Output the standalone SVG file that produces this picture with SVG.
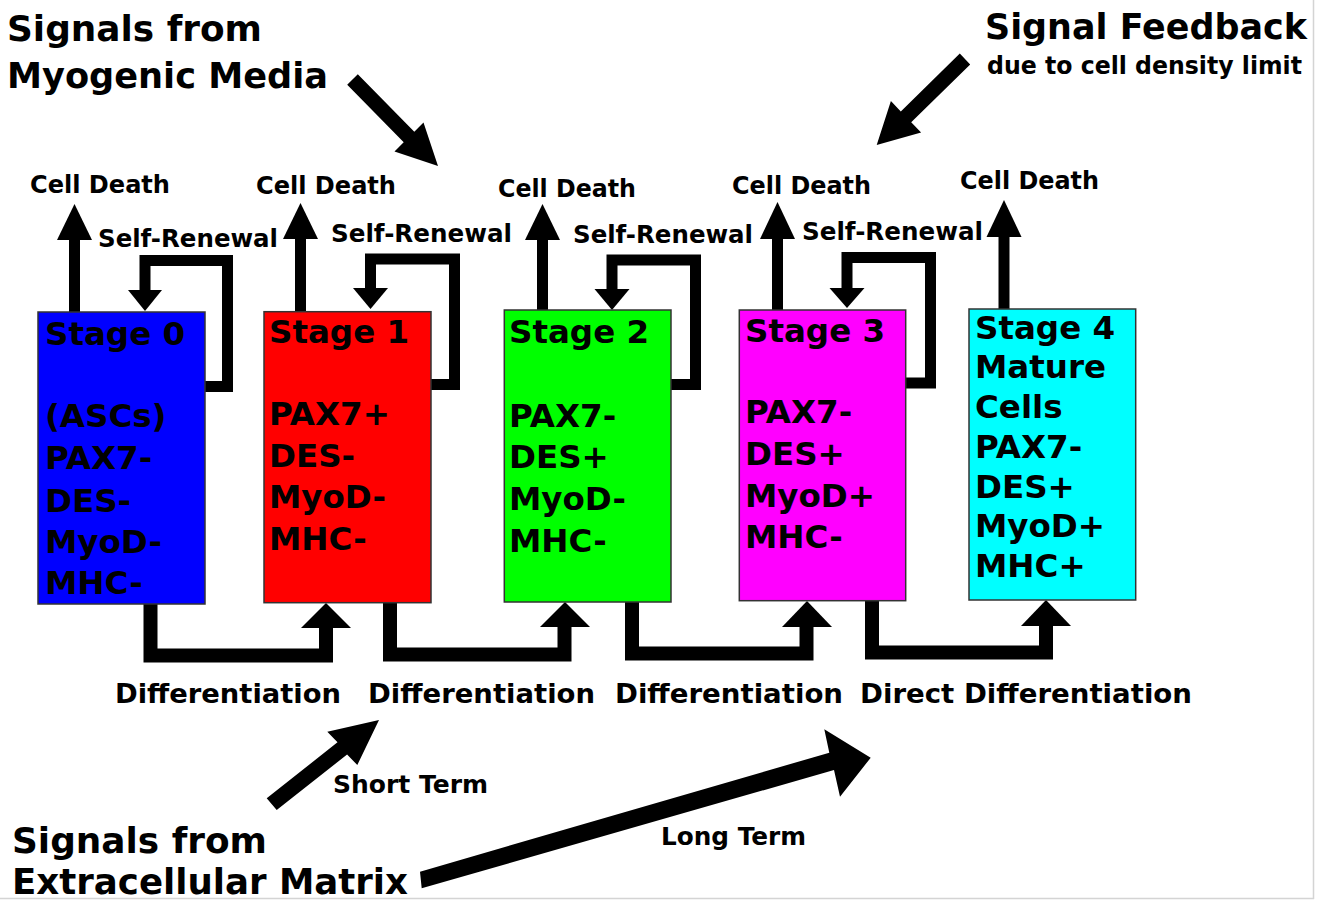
<svg xmlns="http://www.w3.org/2000/svg" width="1321" height="901" viewBox="0 0 1321 901">
<style>
text{font-family:"DejaVu Sans","Verdana","Liberation Sans",sans-serif;font-weight:bold;fill:#000}
.h{font-size:36px}
.lbl{font-size:24px}
.diff{font-size:27px}
.st{font-size:32.5px}
.box{stroke:#333;stroke-width:1.5}
.c11{fill:none;stroke:#000;stroke-width:11;stroke-linejoin:miter;stroke-linecap:butt}
.c14{fill:none;stroke:#000;stroke-width:14;stroke-linejoin:miter;stroke-linecap:butt}
.hd{fill:#000}
</style>
<rect x="0" y="0" width="1321" height="901" fill="#fff"/>
<line x1="1313.5" y1="0" x2="1313.5" y2="899" stroke="#d4d4d4" stroke-width="1.5"/>
<line x1="0" y1="898.5" x2="1314" y2="898.5" stroke="#d4d4d4" stroke-width="1.5"/>

<g id="connectors">
  <!-- cell death arrows -->
  <path class="c11" d="M74.5,312 V239"/><polygon class="hd" points="57,240 74.5,204 92,240"/>
  <path class="c11" d="M300.5,312 V238"/><polygon class="hd" points="283,239 300.5,203 318,239"/>
  <path class="c11" d="M542.5,310 V239"/><polygon class="hd" points="525,240 542.5,204 560,240"/>
  <path class="c11" d="M777.5,310 V238"/><polygon class="hd" points="760,239 777.5,202 795,239"/>
  <path class="c11" d="M1004,309 V236"/><polygon class="hd" points="986.5,237 1004,200 1021.5,237"/>
  <!-- self-renewal loops -->
  <path class="c11" d="M205,386.5 H227.5 V260.5 H145 V291"/><polygon class="hd" points="128,290 145,311 162,290"/>
  <path class="c11" d="M431,384.5 H454.5 V259 H370.5 V289"/><polygon class="hd" points="353,288 370.5,309 388,288"/>
  <path class="c11" d="M671,384.5 H695.5 V260 H612 V290"/><polygon class="hd" points="594.5,289 612,310 629.5,289"/>
  <path class="c11" d="M905.7,383 H930.5 V257.5 H847 V289"/><polygon class="hd" points="829.5,288 847,308 864.5,288"/>
  <!-- differentiation connectors -->
  <path class="c14" d="M150.5,604 V655.5 H326 V627"/><polygon class="hd" points="301,628 326,603 351,628"/>
  <path class="c14" d="M390,603 V654.5 H564.5 V626"/><polygon class="hd" points="540,627 565,602 590,627"/>
  <path class="c14" d="M632,602 V653.5 H806.5 V626"/><polygon class="hd" points="782,627 807,601 832,627"/>
  <path class="c14" d="M872,601 V652.5 H1046 V625"/><polygon class="hd" points="1021,626 1046,600 1071,626"/>
  <!-- signal arrows -->
  <polygon class="hd" points="357.8,74.2 414.3,131.7 423.5,122.5 438,166 394.5,151.5 403.7,142.3 347.2,84.8"/>
  <polygon class="hd" points="959.8,53.6 900.8,111.4 890.9,101.1 876.7,145 921.1,132.5 911.2,122.2 970.2,64.4"/>
  <polygon class="hd" points="266.7,798.3 337.5,742.3 327.3,731.7 379,720 357.3,765 347.1,754.5 276.7,810"/>
  <polygon class="hd" points="420,871.7 829.3,752.7 824.3,729.3 870.7,757.7 840,796.7 834,770 421.7,888.3"/>
</g>

<g id="stage0">
  <rect class="box" x="38" y="312" width="167" height="292" fill="#0000ff"/>
  <text class="st" x="45" y="345">Stage 0</text>
  <text class="st" x="45" y="427">(ASCs)</text>
  <text class="st" x="45" y="469">PAX7-</text>
  <text class="st" x="45" y="512">DES-</text>
  <text class="st" x="45" y="553">MyoD-</text>
  <text class="st" x="45" y="594">MHC-</text>
</g>
<g id="stage1">
  <rect class="box" x="264" y="311.7" width="167" height="291" fill="#ff0000"/>
  <text class="st" x="269" y="343">Stage 1</text>
  <text class="st" x="269" y="425">PAX7+</text>
  <text class="st" x="269" y="467">DES-</text>
  <text class="st" x="269" y="508">MyoD-</text>
  <text class="st" x="269" y="550">MHC-</text>
</g>
<g id="stage2">
  <rect class="box" x="504.3" y="310" width="166.7" height="292" fill="#00ff00"/>
  <text class="st" x="509" y="343">Stage 2</text>
  <text class="st" x="509" y="427">PAX7-</text>
  <text class="st" x="509" y="468">DES+</text>
  <text class="st" x="509" y="510">MyoD-</text>
  <text class="st" x="509" y="552">MHC-</text>
</g>
<g id="stage3">
  <rect class="box" x="739.3" y="310" width="166.4" height="290.7" fill="#ff00ff"/>
  <text class="st" x="745" y="342">Stage 3</text>
  <text class="st" x="745" y="423">PAX7-</text>
  <text class="st" x="745" y="465">DES+</text>
  <text class="st" x="745" y="507">MyoD+</text>
  <text class="st" x="745" y="548">MHC-</text>
</g>
<g id="stage4">
  <rect class="box" x="969" y="309" width="166.7" height="291" fill="#00ffff"/>
  <text class="st" x="975" y="339">Stage 4</text>
  <text class="st" x="975" y="378">Mature</text>
  <text class="st" x="975" y="418">Cells</text>
  <text class="st" x="975" y="458">PAX7-</text>
  <text class="st" x="975" y="498">DES+</text>
  <text class="st" x="975" y="537">MyoD+</text>
  <text class="st" x="975" y="577">MHC+</text>
</g>

<g id="labels">
  <text class="h" x="7" y="41" textLength="255" lengthAdjust="spacingAndGlyphs">Signals from</text>
  <text class="h" x="7" y="88" textLength="321" lengthAdjust="spacingAndGlyphs">Myogenic Media</text>
  <text class="h" x="985" y="39" font-size="35" textLength="322" lengthAdjust="spacingAndGlyphs">Signal Feedback</text>
  <text class="lbl" x="987" y="74" font-size="23" textLength="315" lengthAdjust="spacingAndGlyphs">due to cell density limit</text>
  <text class="h" x="12" y="853" textLength="255" lengthAdjust="spacingAndGlyphs">Signals from</text>
  <text class="h" x="12" y="894" textLength="396" lengthAdjust="spacingAndGlyphs">Extracellular Matrix</text>

  <text class="lbl" x="30" y="193" textLength="140" lengthAdjust="spacingAndGlyphs">Cell Death</text>
  <text class="lbl" x="256" y="194" textLength="140" lengthAdjust="spacingAndGlyphs">Cell Death</text>
  <text class="lbl" x="498" y="197" textLength="138" lengthAdjust="spacingAndGlyphs">Cell Death</text>
  <text class="lbl" x="732" y="194" textLength="139" lengthAdjust="spacingAndGlyphs">Cell Death</text>
  <text class="lbl" x="960" y="189" textLength="139" lengthAdjust="spacingAndGlyphs">Cell Death</text>

  <text class="lbl" x="98" y="246.5" textLength="180" lengthAdjust="spacingAndGlyphs">Self-Renewal</text>
  <text class="lbl" x="331" y="241.5" textLength="181" lengthAdjust="spacingAndGlyphs">Self-Renewal</text>
  <text class="lbl" x="573" y="243" textLength="180" lengthAdjust="spacingAndGlyphs">Self-Renewal</text>
  <text class="lbl" x="802" y="240" textLength="181" lengthAdjust="spacingAndGlyphs">Self-Renewal</text>

  <text class="diff" x="115" y="703" textLength="226" lengthAdjust="spacingAndGlyphs">Differentiation</text>
  <text class="diff" x="368" y="703" textLength="227" lengthAdjust="spacingAndGlyphs">Differentiation</text>
  <text class="diff" x="615" y="703" textLength="228" lengthAdjust="spacingAndGlyphs">Differentiation</text>
  <text class="diff" x="860" y="703" textLength="332" lengthAdjust="spacingAndGlyphs">Direct Differentiation</text>

  <text class="lbl" x="333" y="793" font-size="23" textLength="155" lengthAdjust="spacingAndGlyphs">Short Term</text>
  <text class="lbl" x="661" y="845" textLength="145" lengthAdjust="spacingAndGlyphs">Long Term</text>
</g>
</svg>
